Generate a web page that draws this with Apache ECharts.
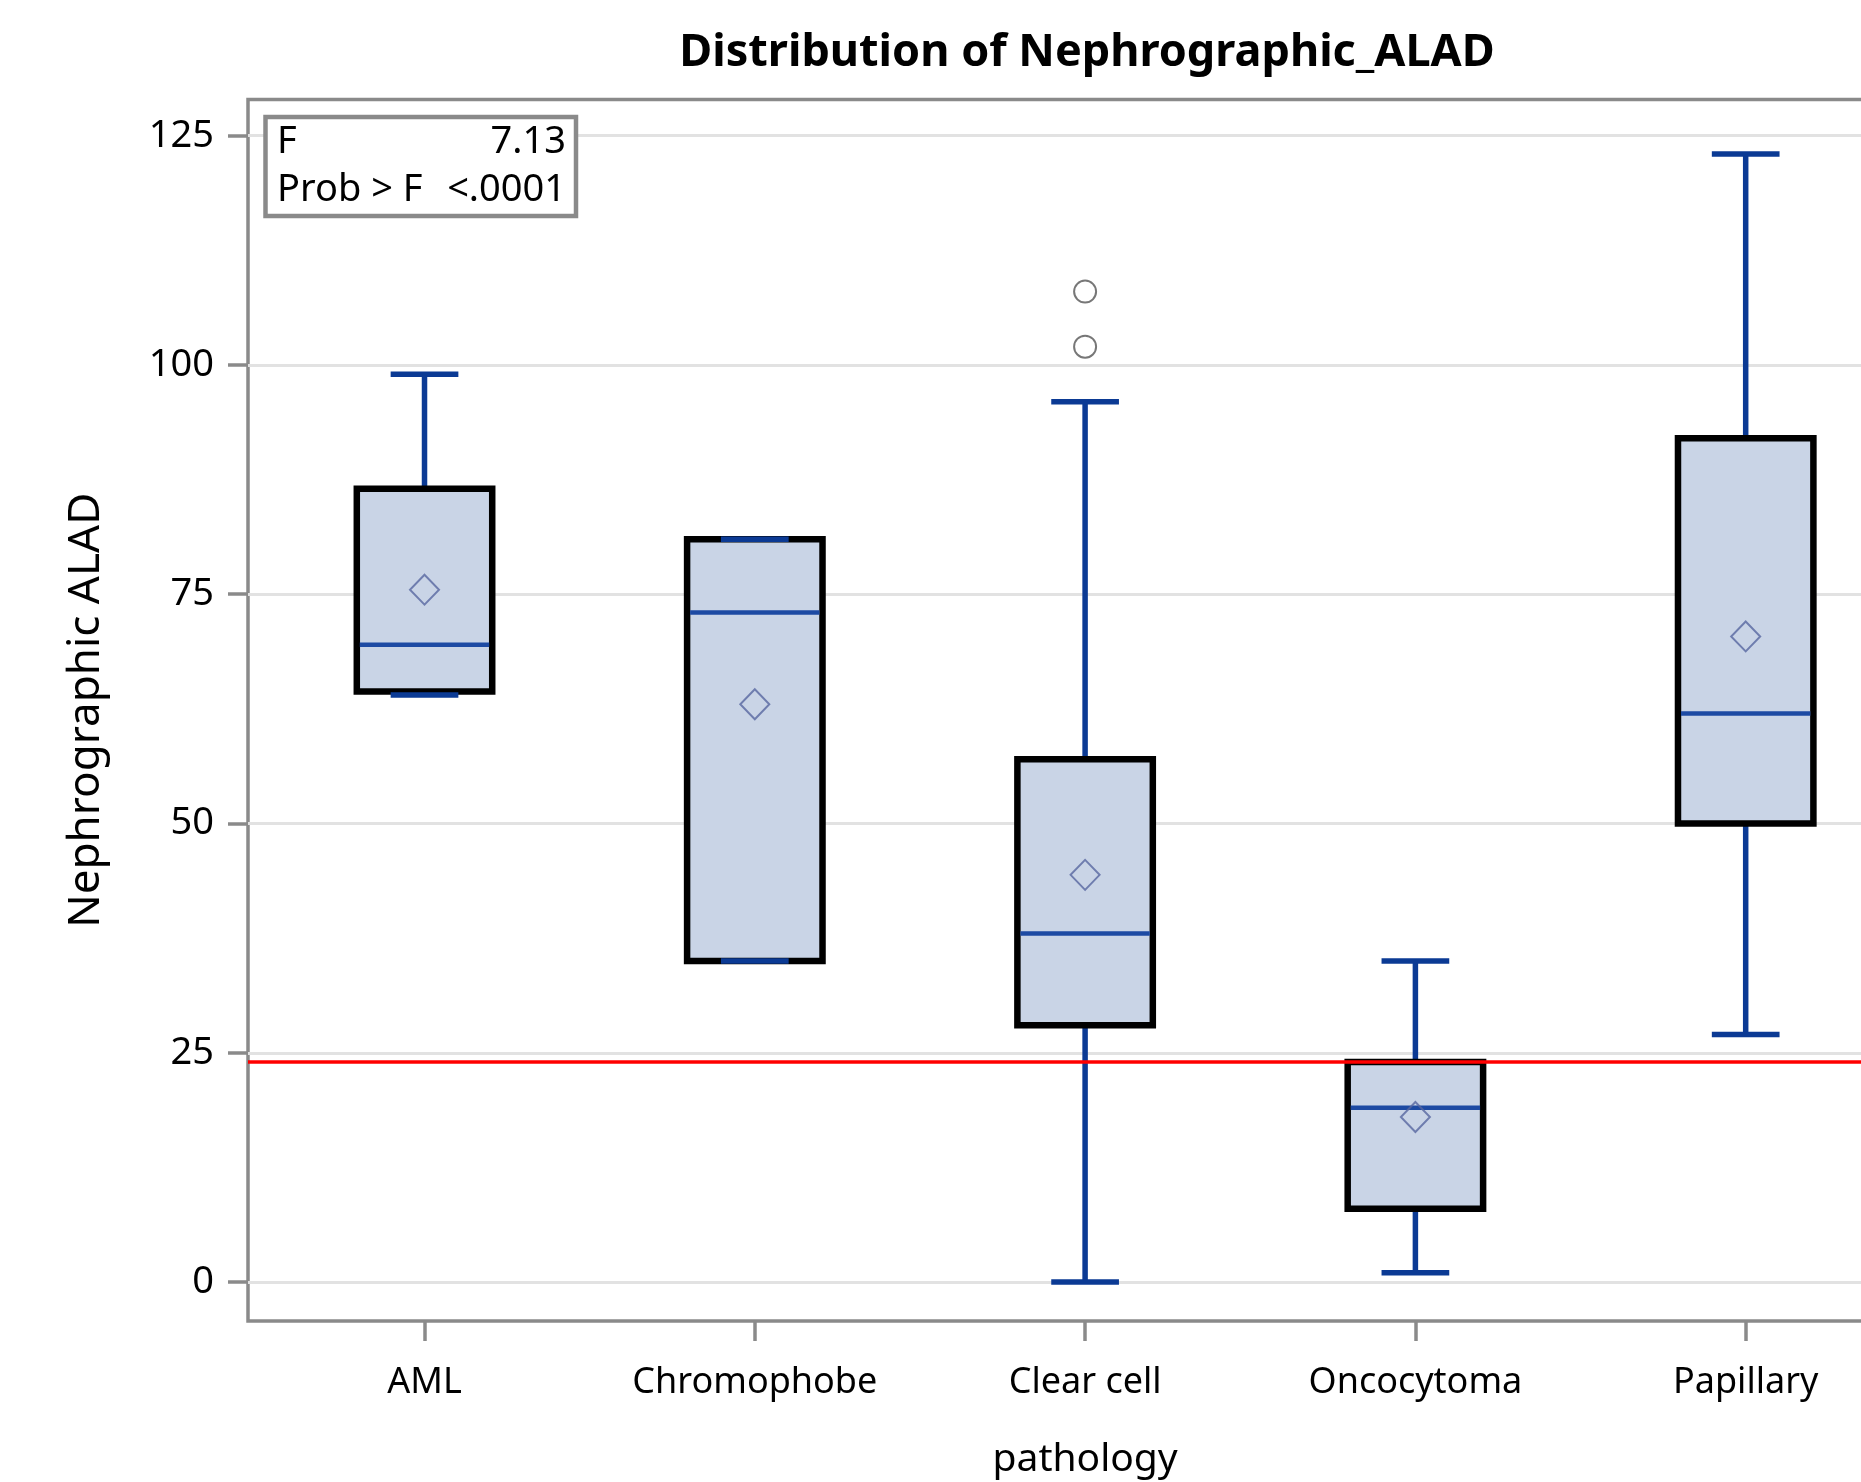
<!DOCTYPE html>
<html><head><meta charset="utf-8">
<script src="https://cdn.jsdelivr.net/npm/echarts@6/dist/echarts.min.js"></script>
<style>html,body{margin:0;padding:0;background:#fff}#c{width:1861px;height:1482px}</style>
</head><body><div id="c"></div>
<script>
const categories = ['AML', 'Chromophobe', 'Clear cell', 'Oncocytoma', 'Papillary'];
const whiskerLow  = [64,   35, 0,    1,  27];
const q1          = [64.4, 35, 28,   8,  50];
const median      = [69.5, 73, 38,   19, 62];
const q3          = [86.5, 81, 57,   24, 92];
const whiskerHigh = [99,   81, 96,   35, 123];
const means       = [75.5, 63, 44.4, 18, 70.4];
const outliers    = [[2, 102], [2, 108]];
const yTicks      = [0, 25, 50, 75, 100, 125];
const referenceLine = 24;
const statLabels = ['F', 'Prob > F'];
const statValues = ['7.13', '<.0001'];
const chartTitle = 'Distribution of Nephrographic_ALAD';
const xName = 'pathology';
const yName = 'Nephrographic ALAD';

const FONT = '"Noto Sans", sans-serif';
const GRID = {left: 248, top: 99.5, right: -61.2, bottom: 161};
const BOX_RATIO = 0.41, CAP_RATIO = 0.205;

const boxData = categories.map((c, i) => [i, whiskerLow[i], q1[i], median[i], q3[i], whiskerHigh[i]]);
const meanData = categories.map((c, i) => [i, means[i]]);

const chart = echarts.init(document.getElementById('c'), null, {renderer: 'canvas'});

function renderBox(params, api) {
  const x = api.value(0);
  const cx = api.coord([x, 0])[0];
  const yLo = api.coord([x, api.value(1)])[1];
  const yQ1 = api.coord([x, api.value(2)])[1];
  const yMed = api.coord([x, api.value(3)])[1];
  const yQ3 = api.coord([x, api.value(4)])[1];
  const yHi = api.coord([x, api.value(5)])[1];
  const band = api.size([1, 0])[0];
  const bw = band * BOX_RATIO;
  const cw = band * CAP_RATIO;
  const blue = '#0b3a94';
  const wl = {stroke: blue, lineWidth: 5.5};
  return {
    type: 'group',
    children: [
      {type: 'line', shape: {x1: cx, y1: yQ3, x2: cx, y2: yHi}, style: wl},
      {type: 'line', shape: {x1: cx, y1: yQ1, x2: cx, y2: yLo}, style: wl},
      {type: 'rect', shape: {x: cx - bw / 2, y: yQ3, width: bw, height: yQ1 - yQ3},
        style: {fill: '#c9d4e6', stroke: '#000', lineWidth: 6.5}},
      {type: 'line', shape: {x1: cx - bw / 2 + 3, y1: yMed, x2: cx + bw / 2 - 3, y2: yMed},
        style: {stroke: '#1d4aa3', lineWidth: 4.5}},
      {type: 'line', shape: {x1: cx - cw / 2, y1: yHi, x2: cx + cw / 2, y2: yHi}, style: wl},
      {type: 'line', shape: {x1: cx - cw / 2, y1: yLo, x2: cx + cw / 2, y2: yLo}, style: wl}
    ]
  };
}

const option = {
  backgroundColor: '#ffffff',
  animation: false,
  textStyle: {fontFamily: FONT},
  grid: Object.assign({show: true, borderColor: '#8a8a8a', borderWidth: 3.5, backgroundColor: 'transparent',
    containLabel: false, outerBoundsMode: 'none'}, GRID),
  xAxis: {
    type: 'value', min: -0.5344, max: 4.5344,
    name: xName, nameLocation: 'middle', nameGap: 119,
    nameTextStyle: {fontSize: 39, color: '#000', fontFamily: FONT},
    axisLine: {show: false, onZero: false},
    axisTick: {show: true, customValues: [0, 1, 2, 3, 4], length: 20, lineStyle: {color: '#8a8a8a', width: 3.5}},
    axisLabel: {show: true, customValues: [0, 1, 2, 3, 4], margin: 44, fontSize: 36, color: '#000', fontFamily: FONT,
      formatter: v => categories[Math.round(v)] || ''},
    splitLine: {show: false}
  },
  yAxis: {
    type: 'value', min: -4.25, max: 128.95,
    name: yName, nameLocation: 'middle', nameGap: 140, nameRotate: 90,
    nameTextStyle: {fontSize: 44, color: '#000', fontFamily: FONT},
    axisLine: {show: false, onZero: false},
    axisTick: {show: true, customValues: yTicks, length: 20, lineStyle: {color: '#8a8a8a', width: 3.5}},
    axisLabel: {show: true, customValues: yTicks, margin: 34, fontSize: 38, color: '#000', fontFamily: FONT},
    splitLine: {show: true, lineStyle: {color: '#e2e2e2', width: 3}}
  },
  series: [
    {
      type: 'custom', name: 'box', renderItem: renderBox, data: boxData, z: 2,
      encode: {x: 0, y: [1, 2, 3, 4, 5]},
      markLine: {
        silent: true, symbol: 'none', label: {show: false}, z: 6,
        lineStyle: {color: '#ff0000', width: 3.5, type: 'solid'},
        data: [{yAxis: referenceLine}]
      }
    },
    {
      type: 'scatter', name: 'mean', data: meanData, z: 4,
      symbol: 'path://M0,-1L1,0L0,1L-1,0Z', symbolSize: [29, 30],
      itemStyle: {color: 'rgba(0,0,0,0)', borderColor: '#5866a0', borderWidth: 2}
    },
    {
      type: 'scatter', name: 'outlier', data: outliers, z: 4,
      symbol: 'circle', symbolSize: 22,
      itemStyle: {color: 'rgba(0,0,0,0)', borderColor: '#555555', borderWidth: 2}
    }
  ],
  graphic: [
    {type: 'text', x: 1087, y: 53, z: 10,
      style: {text: chartTitle, font: 'bold 45px ' + FONT, fill: '#000', textAlign: 'center', textVerticalAlign: 'middle'}},
    {type: 'rect', z: 10, shape: {x: 265.5, y: 117, width: 310.5, height: 99},
      style: {fill: '#fff', stroke: '#8a8a8a', lineWidth: 4.5}},
    {type: 'text', z: 11, x: 277, y: 142, style: {text: statLabels[0], font: '38px ' + FONT, fill: '#000', textAlign: 'left', textVerticalAlign: 'middle'}},
    {type: 'text', z: 11, x: 566, y: 142, style: {text: statValues[0], font: '38px ' + FONT, fill: '#000', textAlign: 'right', textVerticalAlign: 'middle'}},
    {type: 'text', z: 11, x: 277, y: 190, style: {text: statLabels[1], font: '38px ' + FONT, fill: '#000', textAlign: 'left', textVerticalAlign: 'middle'}},
    {type: 'text', z: 11, x: 566, y: 190, style: {text: statValues[1], font: '38px ' + FONT, fill: '#000', textAlign: 'right', textVerticalAlign: 'middle'}}
  ]
};
chart.setOption(option);
</script></body></html>
